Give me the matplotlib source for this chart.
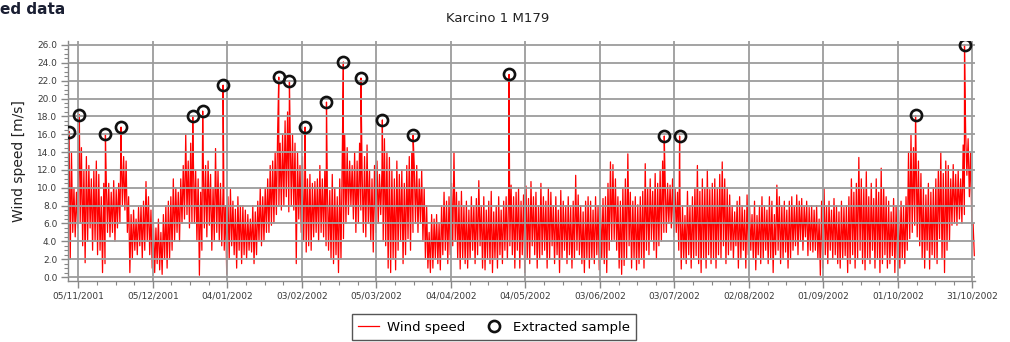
import numpy as np
import pandas as pd
import matplotlib
matplotlib.use("Agg")
import matplotlib.pyplot as plt

# ---- data -------------------------------------------------------------
start_date = "2001-11-01"
end_date = "2002-11-01"

# daily upper / lower excursions of the wind speed record [m/s]
daily_high = [
    15.5, 14.0, 10.0, 9.5, 15.0, 14.5, 12.0, 13.5, 12.5, 11.0,
    12.0, 13.0, 11.5, 9.0, 10.5, 11.0, 10.5, 9.5, 10.8, 9.8,
    10.5, 14.7, 13.5, 13.0, 9.0, 7.0, 7.5, 6.5, 7.8, 8.0,
    8.5, 10.7, 9.0, 7.5, 6.0, 5.5, 6.5, 5.0, 7.0, 8.0,
    8.5, 9.0, 11.0, 10.0, 9.5, 11.0, 12.5, 16.0, 13.0, 15.0,
    14.5, 12.0, 11.0, 9.5, 14.0, 12.5, 13.0, 11.5, 10.0, 14.4,
    12.0, 10.5, 9.5, 8.0, 9.0, 9.8, 8.5, 7.6, 9.0, 8.0,
    8.0, 7.5, 7.0, 6.5, 8.0, 7.3, 8.5, 10.0, 9.0, 10.0,
    11.0, 12.5, 13.0, 14.0, 16.3, 15.0, 16.0, 17.5, 18.5, 17.0,
    16.0, 15.0, 14.0, 12.5, 13.5, 12.0, 11.0, 11.5, 10.5, 10.7,
    11.0, 12.5, 11.0, 12.0, 10.5, 9.7, 11.5, 10.0, 9.0, 11.0,
    13.0, 15.9, 14.5, 13.0, 12.5, 14.0, 13.0, 15.0, 12.0, 13.5,
    14.8, 12.0, 11.0, 12.5, 13.0, 11.5, 12.0, 15.5, 14.0, 13.4,
    12.0, 11.0, 13.0, 11.5, 12.0, 10.5, 12.5, 13.5, 14.0, 12.5,
    12.5, 11.0, 12.0, 10.0, 8.0, 5.0, 7.0, 6.5, 7.0, 6.0,
    8.0, 9.5, 8.5, 9.0, 10.5, 14.0, 9.5, 8.5, 9.6, 8.0,
    8.5, 7.5, 9.0, 8.0, 8.8, 10.8, 8.0, 9.0, 7.5, 8.5,
    9.6, 7.3, 8.0, 9.0, 7.5, 8.5, 9.0, 9.5, 10.3, 9.0,
    9.5, 10.0, 8.5, 9.2, 10.2, 8.8, 10.7, 9.0, 9.5, 8.0,
    10.5, 9.0, 8.5, 10.0, 9.5, 8.0, 9.0, 7.5, 9.7, 8.5,
    8.0, 9.0, 7.8, 8.5, 11.4, 9.2, 8.0, 7.3, 8.5, 9.0,
    8.5, 7.5, 9.0, 8.0, 7.8, 8.8, 9.0, 10.5, 12.9, 12.6,
    11.0, 9.0, 8.5, 10.0, 11.0, 13.8, 9.5, 8.5, 9.0, 8.1,
    9.0, 9.6, 12.7, 10.0, 11.0, 9.6, 11.6, 10.5, 12.0, 13.0,
    11.0, 10.5, 10.3, 11.0, 10.0, 9.5, 9.0, 8.0, 6.9, 9.6,
    8.0, 9.0, 10.0, 12.5, 9.6, 11.0, 10.0, 12.0, 9.8, 10.5,
    11.0, 10.0, 11.5, 12.9, 11.0, 10.0, 9.2, 8.0, 7.3, 8.5,
    9.0, 8.0, 7.5, 9.2, 8.0, 7.0, 8.5, 6.9, 8.0, 9.0,
    8.0, 7.5, 9.0, 8.5, 7.0, 10.3, 9.0, 8.0, 8.5, 7.5,
    8.5, 9.0, 8.0, 9.2, 8.5, 8.8, 8.0, 8.5, 7.8, 8.0,
    7.5, 8.0, 6.5, 8.5, 9.9, 8.0, 8.5, 7.5, 8.8, 8.0,
    7.3, 8.5, 7.8, 8.0, 9.0, 11.0, 9.5, 10.5, 13.4, 11.0,
    10.0, 11.8, 9.0, 10.5, 8.8, 11.0, 9.5, 12.2, 10.0, 9.0,
    8.5, 7.3, 8.8, 8.0, 7.5, 8.5, 8.0, 9.0, 14.0, 15.9,
    14.5, 15.0, 13.0, 11.6, 10.0, 9.2, 10.5, 9.5, 10.0, 11.0,
    12.0, 14.0, 11.6, 13.0, 12.5, 11.0, 12.6, 11.5, 12.0, 11.0,
    14.8, 16.3, 15.5, 14.0, 6.0,
]
daily_low = [
    2.0, 5.0, 4.5, 5.5, 6.0, 3.5, 1.6, 4.0, 5.5, 3.0,
    4.0, 2.5, 3.0, 0.5, 1.5, 5.0, 4.5, 5.0, 4.0, 5.5,
    6.0, 8.0, 7.5, 5.0, 0.5, 2.0, 3.0, 2.5, 3.5, 2.0,
    3.0, 4.0, 2.5, 1.0, 0.5, 1.5, 0.8, 0.3, 2.0, 1.0,
    2.0, 3.0, 4.0, 5.0, 4.0, 6.0, 6.5, 7.0, 5.5, 6.0,
    6.0, 4.0, 0.2, 3.0, 5.5, 4.5, 5.8, 3.0, 4.0, 5.0,
    4.0, 3.5, 3.0, 0.3, 2.0, 3.5, 2.5, 1.0, 3.0, 1.5,
    2.5, 2.0, 3.0, 2.8, 1.5, 2.5, 4.0, 3.5, 4.0, 5.0,
    5.0, 5.8, 6.0, 7.0, 8.0, 7.5, 8.0, 9.0, 7.3, 8.0,
    7.5, 1.5, 6.5, 5.0, 4.0, 2.8, 3.5, 3.0, 4.5, 5.0,
    4.0, 5.0, 4.5, 3.5, 3.0, 2.0, 1.5, 2.5, 0.5, 2.0,
    4.3, 6.0, 7.0, 8.0, 6.5, 5.0, 6.0, 7.5, 5.0, 4.5,
    6.0, 4.0, 2.8, 5.0, 6.0, 7.0, 4.0, 3.5, 1.0, 0.5,
    2.0, 0.8, 3.0, 4.0, 1.5, 2.5, 4.3, 3.0, 5.0, 6.0,
    5.0, 6.0, 4.0, 2.0, 1.0, 0.5, 1.0, 2.0, 1.5, 0.8,
    2.5, 3.0, 1.5, 2.5, 3.5, 4.0, 2.0, 0.9, 2.0, 1.5,
    1.0, 2.0, 3.0, 1.5, 2.5, 3.5, 1.0, 0.8, 2.0, 1.5,
    0.5, 2.0, 1.0, 2.5, 1.5, 3.0, 2.0, 3.5, 2.5, 1.0,
    3.0, 1.0, 2.5, 0.5, 2.0, 1.5, 3.5, 2.5, 1.0, 2.0,
    2.5, 3.0, 1.0, 2.0, 3.5, 1.5, 2.5, 0.5, 2.0, 3.0,
    1.5, 2.5, 1.0, 2.0, 3.0, 2.5, 1.5, 0.5, 2.0, 1.0,
    2.0, 1.5, 2.5, 0.8, 2.0, 1.5, 0.5, 3.0, 4.0, 4.2,
    3.0, 1.0, 0.3, 1.3, 2.0, 3.5, 1.0, 2.0, 0.8, 1.5,
    2.0, 1.0, 3.0, 2.5, 4.2, 3.0, 2.0, 3.5, 4.0, 5.0,
    5.0, 6.0, 5.5, 4.5, 5.0, 3.0, 0.9, 2.0, 1.5, 2.5,
    1.0, 2.0, 2.4, 1.5, 0.5, 2.0, 1.0, 2.5, 1.5, 2.0,
    1.0, 2.5, 2.0, 3.5, 1.5, 2.5, 3.0, 2.0, 3.5, 1.0,
    2.0, 3.0, 1.0, 2.5, 3.0, 2.0, 0.8, 2.5, 1.5, 2.0,
    3.0, 1.5, 2.0, 0.5, 2.5, 3.0, 1.5, 2.0, 2.8, 1.0,
    2.0, 3.0, 3.5, 2.5, 4.0, 3.0, 4.5, 2.4, 3.0, 2.8,
    3.0, 2.0, 0.2, 1.0, 2.5, 1.5, 3.0, 2.0, 2.5, 1.5,
    1.0, 2.0, 2.4, 0.5, 1.5, 2.5, 1.0, 2.0, 3.0, 1.5,
    0.8, 2.0, 1.5, 3.0, 1.0, 2.0, 0.5, 1.5, 2.5, 1.0,
    1.5, 2.4, 0.5, 2.0, 1.0, 2.0, 1.5, 3.0, 4.3, 5.0,
    5.8, 4.5, 3.5, 2.0, 1.0, 3.0, 0.9, 2.5, 2.0, 1.5,
    4.3, 2.0, 0.5, 3.0, 4.0, 5.8, 6.0, 5.8, 6.5, 6.0,
    7.0, 11.4, 9.0, 5.8, 2.4,
]

# extracted peak samples
sample_times = [
    "2001-11-01 07:00", "2001-11-05 10:00", "2001-11-15 22:00",
    "2001-11-22 05:00", "2001-12-21 02:00", "2001-12-25 02:00",
    "2002-01-02 07:00", "2002-01-24 17:00", "2002-01-29 00:00",
    "2002-02-04 07:00", "2002-02-12 22:00", "2002-02-19 17:00",
    "2002-02-26 19:00", "2002-03-07 10:00", "2002-03-19 19:00",
    "2002-04-27 10:00", "2002-06-28 22:00", "2002-07-05 02:00",
    "2002-10-08 02:00", "2002-10-27 19:00",
]
sample_speeds = [
    16.3, 18.2, 16.0, 16.8, 18.0, 18.6, 21.5, 22.4, 22.0, 16.8,
    19.6, 24.1, 22.3, 17.6, 15.9, 22.7, 15.8, 15.8, 18.1, 26.0,
]

tick_labels = [
    "05/11/2001", "05/12/2001", "04/01/2002", "03/02/2002", "05/03/2002",
    "04/04/2002", "04/05/2002", "03/06/2002", "03/07/2002", "02/08/2002",
    "01/09/2002", "01/10/2002", "31/10/2002",
]

title_text = "Karcino 1 M179"
heading_text = "ed data"
y_label = "Wind speed [m/s]"

# ---- assemble the time series ----------------------------------------
start = pd.Timestamp(start_date)
days = np.arange(len(daily_high), dtype=float)
t_high = start + pd.to_timedelta(days + 0.25, unit="D")
t_low = start + pd.to_timedelta(days + 0.75, unit="D")
t_samp = pd.to_datetime(sample_times)

series = pd.concat([
    pd.Series(daily_high, index=t_high),
    pd.Series(daily_low, index=t_low),
    pd.Series(sample_speeds, index=t_samp),
]).sort_index()

# ---- figure ------------------------------------------------------------
plt.rcParams["font.family"] = ["DejaVu Sans"]
fig = plt.figure(figsize=(10.10, 3.42), dpi=100)
ax = fig.add_axes([0.0677, 0.1795, 0.8976, 0.6994])

grid_c = "#9c9c9c"
ax.plot(series.index, series.values, color="#ff0000", lw=0.9,
        label="Wind speed", zorder=2)
ax.plot(t_samp, sample_speeds, ls="none", marker="o", ms=8.0,
        mfc="none", mec="#111111", mew=1.9, label="Extracted sample",
        zorder=4)

ax.set_xlim(pd.Timestamp(start_date), pd.Timestamp(end_date))
ax.set_ylim(-0.4, 26.4)

major_dates = pd.to_datetime(tick_labels, format="%d/%m/%Y")
ax.set_xticks(major_dates)
ax.set_xticklabels(tick_labels)
minor_dates = pd.date_range(major_dates[0], major_dates[-1], freq="180h")
ax.set_xticks(minor_dates, minor=True)

ax.set_yticks(np.arange(0, 26.01, 2.0))
ax.set_yticklabels([f"{v:.1f}" for v in np.arange(0, 26.01, 2.0)])
ax.set_yticks(np.arange(0, 26.01, 0.5), minor=True)

ax.set_axisbelow(False)
ax.grid(True, which="major", color=grid_c, lw=1.3, zorder=3)

ax.tick_params(which="major", length=5, width=1.0, color="#888888",
               labelsize=6.5, labelcolor="#3a3a3a", pad=3)
ax.tick_params(which="minor", length=3, width=0.8, color="#888888")

for side in ("top", "right"):
    ax.spines[side].set_visible(False)
for side in ("left", "bottom"):
    ax.spines[side].set_color("#888888")
    ax.spines[side].set_linewidth(1.0)

ax.set_ylabel(y_label, fontsize=10, color="#222222")
ax.yaxis.set_label_coords(-0.047, 0.5)

fig.text(0.4925, 1 - 18 / 342, title_text, ha="center", va="center",
         fontsize=9.5, color="#222222")
fig.text(0.0, 1 - 10 / 342, heading_text, ha="left", va="center",
         fontsize=11, fontweight="bold", color="#1a1f33")

fig.legend(loc="center", bbox_to_anchor=(494 / 1010, 1 - 327 / 342),
           ncol=2, fontsize=9.5, frameon=True, fancybox=False,
           edgecolor="#555555", framealpha=1, handlelength=1.6,
           handletextpad=0.6, columnspacing=1.4, borderpad=0.5)

fig.savefig("out.png", dpi=100)
